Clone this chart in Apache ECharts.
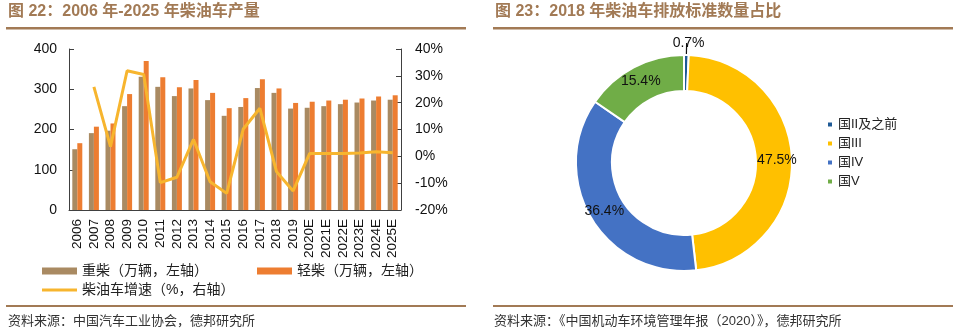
<!DOCTYPE html>
<html>
<head>
<meta charset="utf-8">
<script src="https://cdn.jsdelivr.net/npm/echarts@6/dist/echarts.min.js"></script>
<style>
  html, body { margin: 0; padding: 0; background: #fff; }
  #chart { width: 962px; height: 335px; }
</style>
</head>
<body>
<div id="chart"></div>
<script>
// Diesel vehicle output 2006-2025E (10k units) and growth (%)
const years = ['2006','2007','2008','2009','2010','2011','2012','2013','2014','2015',
               '2016','2017','2018','2019','2020E','2021E','2022E','2023E','2024E','2025E'];
const heavyDiesel = [151,191,197,258,331,306,283,302,273,234,256,303,291,252,254,258,263,267,272,274];
const lightDiesel = [166,207,215,288,370,330,305,323,291,253,278,325,302,266,269,272,274,277,282,285];
const dieselGrowth = [null,25.9,3.6,31.9,30.5,-9.8,-7.8,6.3,-9.5,-13.8,10.2,17.9,-5.7,-12.9,1.1,1.1,1.1,1.2,1.7,1.3];
const leftTicks = { min: 0, max: 400, interval: 100 };
const rightTicks = { min: -20, max: 40, interval: 10 };

// 2018 diesel vehicles by emission standard (%)
const standards = ['国II及之前', '国III', '国IV', '国V'];
const standardShare = [0.7, 47.5, 36.4, 15.4];

const FONT = '"Liberation Sans", Arial, "Noto Sans CJK SC", sans-serif';
const BROWN = '#A27A55';
const heavyColor = '#A98A62';
const lightColor = '#ED7D31';
const lineColor = '#F7B52E';
const pieColors = ['#1F5A96', '#FFC000', '#4472C4', '#70AD47'];

const chart = echarts.init(document.getElementById('chart'), null, { renderer: 'canvas' });

const legendText = { fontFamily: FONT, fontSize: 14, color: '#222' };

chart.setOption({
  animation: false,
  textStyle: { fontFamily: FONT },
  graphic: [
    { type: 'text', left: 8, top: 4, style: { text: '图 22：2006 年-2025 年柴油车产量', font: 'bold 16px ' + FONT, fill: BROWN } },
    { type: 'rect', shape: { x: 6, y: 27, width: 460, height: 2.5 }, style: { fill: BROWN } },
    { type: 'rect', shape: { x: 6, y: 305, width: 460, height: 2 }, style: { fill: BROWN } },
    { type: 'text', left: 8, top: 315, style: { text: '资料来源：中国汽车工业协会，德邦研究所', font: '13px ' + FONT, fill: '#333' } },
    { type: 'text', left: 495, top: 4, style: { text: '图 23：2018 年柴油车排放标准数量占比', font: 'bold 16px ' + FONT, fill: BROWN } },
    { type: 'rect', shape: { x: 493, y: 27, width: 460, height: 2.5 }, style: { fill: BROWN } },
    { type: 'rect', shape: { x: 493, y: 305, width: 460, height: 2 }, style: { fill: BROWN } },
    { type: 'text', left: 494, top: 315, style: { text: '资料来源：《中国机动车环境管理年报（2020）》，德邦研究所', font: '13px ' + FONT, fill: '#333' } }
  ],
  legend: [
    { left: 37, top: 259, icon: 'rect', itemWidth: 35, itemHeight: 7, textStyle: legendText, data: ['重柴（万辆，左轴）'] },
    { left: 252, top: 259, icon: 'rect', itemWidth: 35, itemHeight: 7, textStyle: legendText, data: ['轻柴（万辆，左轴）'] },
    { left: 37, top: 278, icon: 'rect', itemWidth: 35, itemHeight: 3, textStyle: legendText, data: ['柴油车增速（%，右轴）'] },
    { left: 821, top: 113, orient: 'vertical', icon: 'rect', itemWidth: 6, itemHeight: 6, itemGap: 6,
      textStyle: { fontFamily: FONT, fontSize: 13, color: '#222' }, data: standards }
  ],
  grid: { left: 69, top: 49, width: 332, height: 161 },
  xAxis: {
    type: 'category',
    data: years,
    axisLine: { lineStyle: { color: '#404040', width: 1 } },
    axisTick: { inside: true, length: 4, lineStyle: { color: '#404040' } },
    axisLabel: { rotate: 90, fontSize: 13.5, color: '#111', margin: 9, interval: 0 }
  },
  yAxis: [
    {
      type: 'value', min: leftTicks.min, max: leftTicks.max, interval: leftTicks.interval,
      splitLine: { show: false },
      axisLine: { show: true, lineStyle: { color: '#404040' } },
      axisTick: { show: true, inside: true, length: 5, lineStyle: { color: '#404040' } },
      axisLabel: { fontSize: 14, color: '#111', margin: 12 }
    },
    {
      type: 'value', min: rightTicks.min, max: rightTicks.max, interval: rightTicks.interval,
      splitLine: { show: false },
      axisLine: { show: true, lineStyle: { color: '#404040' } },
      axisTick: { show: true, inside: true, length: 5, lineStyle: { color: '#404040' } },
      axisLabel: { fontSize: 14, color: '#111', margin: 14, formatter: '{value}%' }
    }
  ],
  series: [
    { name: '重柴（万辆，左轴）', type: 'bar', data: heavyDiesel, barWidth: 5, barGap: '0%',
      itemStyle: { color: heavyColor } },
    { name: '轻柴（万辆，左轴）', type: 'bar', data: lightDiesel, barWidth: 5,
      itemStyle: { color: lightColor } },
    { name: '柴油车增速（%，右轴）', type: 'line', yAxisIndex: 1, data: dieselGrowth,
      symbol: 'none', lineStyle: { color: lineColor, width: 3 }, itemStyle: { color: lineColor } },
    {
      type: 'pie',
      center: [684, 163],
      radius: [72, 108],
      startAngle: 90,
      clockwise: true,
      avoidLabelOverlap: false,
      itemStyle: { borderColor: '#fff', borderWidth: 2 },
      label: { position: 'inside', formatter: '{c}%', fontSize: 14, color: '#111', fontFamily: FONT },
      labelLine: { show: false },
      data: standards.map(function (name, i) {
        const item = { name: name, value: standardShare[i], itemStyle: { color: pieColors[i] } };
        if (i === 0) {
          // small slice: label sits above the ring on a short leader
          item.label = { position: 'outside', distanceToLabelLine: 0, verticalAlign: 'bottom',
                         padding: [0, 0, 0, 0], offset: [-14, 0] };
          item.labelLine = { show: true, length: 12, length2: 0, smooth: false,
                             lineStyle: { color: '#111', width: 1.2 } };
        }
        return item;
      })
    }
  ]
});
</script>
</body>
</html>
